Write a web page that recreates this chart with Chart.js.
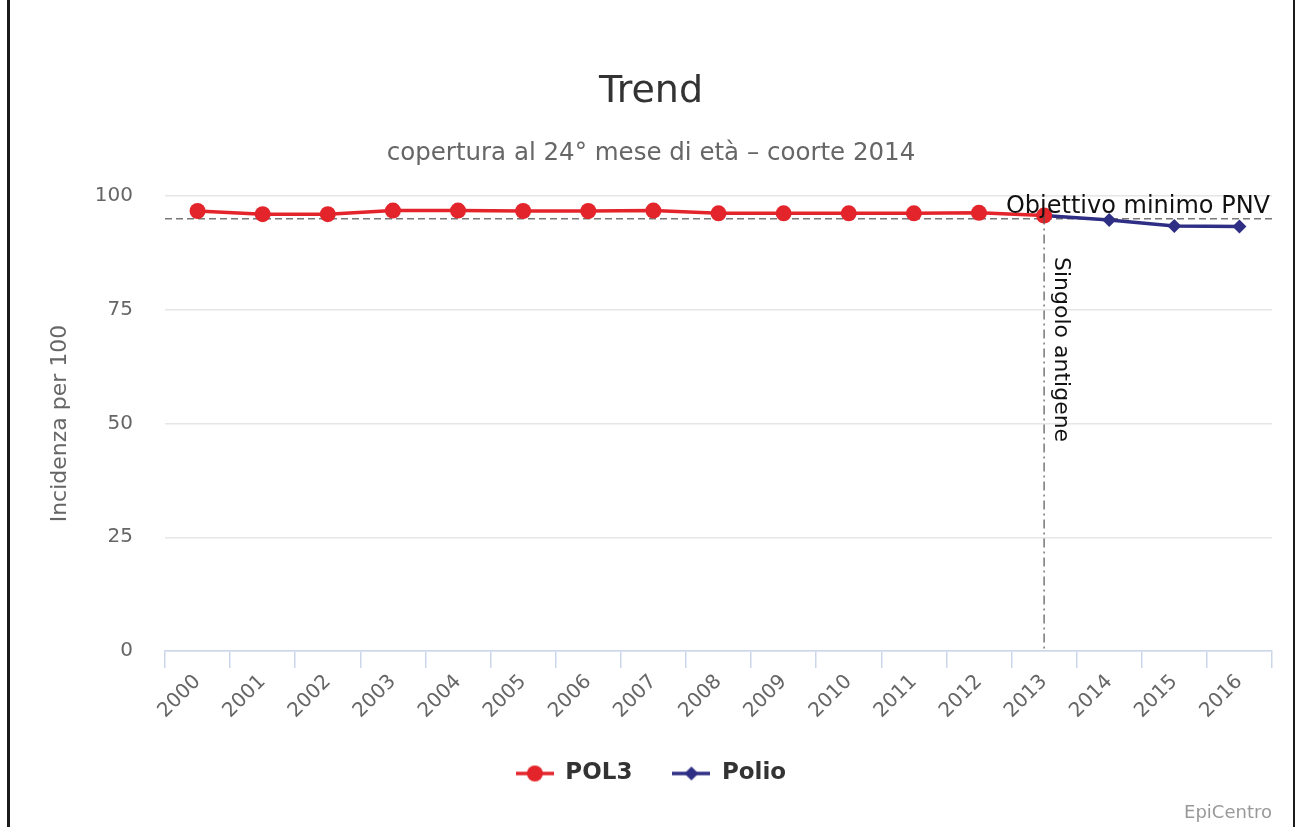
<!DOCTYPE html>
<html>
<head>
<meta charset="utf-8">
<script src="https://cdn.jsdelivr.net/npm/chart.js@4/dist/chart.umd.min.js"></script>
<style>
  html, body { margin: 0; padding: 0; background: #fff; }
  #wrap { position: relative; width: 1295px; height: 827px; }
  #frameL { position: absolute; left: 7px; top: 0; width: 3px; height: 827px; background: #1a1a1a; }
  #frameR { position: absolute; left: 1293px; top: 0; width: 2px; height: 827px; background: #1a1a1a; }
</style>
</head>
<body>
<div id="wrap">
  <canvas id="chTrend" width="1295" height="827"></canvas>
  <div id="frameL"></div>
  <div id="frameR"></div>
</div>
<script>
var years = ['2000','2001','2002','2003','2004','2005','2006','2007','2008',
             '2009','2010','2011','2012','2013','2014','2015','2016'];
var pol3  = [96.7, 96.0, 96.0, 96.8, 96.8, 96.7, 96.7, 96.8, 96.2,
             96.2, 96.2, 96.2, 96.3, 95.7, null, null, null];
var polio = [null, null, null, null, null, null, null, null, null,
             null, null, null, null, 95.7, 94.7, 93.4, 93.3];
var yTicks = [0, 25, 50, 75, 100];
var targetValue = 95;
var targetLabel = 'Objettivo minimo PNV';
var markerYear = '2013';
var markerLabel = 'Singolo antigene';

var red = '#e3242b', navy = '#2e2e85';
Chart.defaults.font.family = "'DejaVu Sans', sans-serif";

// little line+marker images for the legend
function legendIcon(color, style) {
  var c = document.createElement('canvas');
  c.width = 38; c.height = 18;
  var g = c.getContext('2d');
  g.strokeStyle = color; g.fillStyle = color; g.lineWidth = 3.5;
  g.beginPath(); g.moveTo(0, 9); g.lineTo(38, 9); g.stroke();
  g.beginPath();
  if (style === 'circle') {
    g.arc(19, 9, 8, 0, Math.PI * 2);
  } else {
    g.moveTo(19, 2); g.lineTo(26, 9); g.lineTo(19, 16); g.lineTo(12, 9); g.closePath();
  }
  g.fill();
  return c;
}

var annotations = {
  id: 'annotations',
  beforeDatasetsDraw: function(chart) {
    var ctx = chart.ctx, a = chart.chartArea, y = chart.scales.y.getPixelForValue(targetValue);
    ctx.save();
    ctx.strokeStyle = '#777'; ctx.lineWidth = 1.5; ctx.setLineDash([7, 4]);
    ctx.beginPath(); ctx.moveTo(a.left, y); ctx.lineTo(a.right, y); ctx.stroke();
    ctx.restore();
  },
  afterDatasetsDraw: function(chart) {
    var ctx = chart.ctx, a = chart.chartArea, ys = chart.scales.y;
    var idx = years.indexOf(markerYear);
    var x = chart.scales.x.getPixelForValue(idx);
    ctx.save();
    ctx.strokeStyle = '#555'; ctx.lineWidth = 1.2; ctx.setLineDash([9, 4, 2, 4]);
    ctx.beginPath(); ctx.moveTo(x, ys.getPixelForValue(pol3[idx])); ctx.lineTo(x, a.bottom); ctx.stroke();
    ctx.setLineDash([]);
    ctx.fillStyle = '#111';
    ctx.font = "24px 'DejaVu Sans', sans-serif";
    ctx.textAlign = 'right'; ctx.textBaseline = 'alphabetic';
    ctx.fillText(targetLabel, a.right - 2, ys.getPixelForValue(targetValue) - 6);
    ctx.translate(x + 11, a.top + 61);
    ctx.rotate(Math.PI / 2);
    ctx.textAlign = 'left';
    ctx.font = "22px 'DejaVu Sans', sans-serif";
    ctx.fillText(markerLabel, 0, 0);
    ctx.restore();
  },
  afterDraw: function(chart) {
    var ctx = chart.ctx;
    ctx.save();
    ctx.fillStyle = '#999';
    ctx.font = "18px 'DejaVu Sans', sans-serif";
    ctx.textAlign = 'right'; ctx.textBaseline = 'middle';
    ctx.fillText('EpiCentro', 1272, 813);
    ctx.restore();
  }
};

new Chart(document.getElementById('chTrend'), {
  type: 'line',
  data: {
    labels: years,
    datasets: [
      { label: 'POL3', data: pol3, borderColor: red, backgroundColor: red,
        borderWidth: 3.5, pointStyle: 'circle', pointRadius: 8, pointBorderWidth: 0,
        legendIcon: legendIcon(red, 'circle') },
      { label: 'Polio', data: polio, borderColor: navy, backgroundColor: navy,
        borderWidth: 3.5, pointStyle: 'rectRot', pointRadius: 7, pointBorderWidth: 0,
        legendIcon: legendIcon(navy, 'rectRot') }
    ]
  },
  options: {
    responsive: false,
    animation: false,
    layout: { padding: { top: 69, left: 30, right: 23, bottom: 32 } },
    scales: {
      x: {
        offset: true,
        grid: { display: true, drawOnChartArea: false, offset: true, tickLength: 17,
                color: '#ccd6eb', lineWidth: 1.5 },
        border: { display: true, color: '#ccd6eb', width: 1.5 },
        ticks: { minRotation: 45, maxRotation: 45, autoSkip: false, color: '#666',
                 font: { size: 20 }, padding: 2 },
        afterFit: function(s) { s.height = 71; }
      },
      y: {
        min: 0, max: 100,
        afterBuildTicks: function(s) { s.ticks = yTicks.map(function(v){ return {value: v}; }); },
        grid: { color: '#e6e6e6', lineWidth: 1.5, drawTicks: false },
        border: { display: false },
        ticks: { color: '#666', font: { size: 20 }, padding: 32 },
        title: { display: true, text: 'Incidenza per 100', color: '#666',
                 font: { size: 22 }, padding: { top: 17, bottom: 0 } },
        afterFit: function(s) { s.width = 135; }
      }
    },
    plugins: {
      title: { display: true, text: 'Trend', color: '#333',
               font: { size: 38, weight: 'normal' }, padding: { top: 0, bottom: 24 } },
      subtitle: { display: true, text: 'copertura al 24° mese di età – coorte 2014',
                  color: '#666', font: { size: 24.5 }, padding: { top: 0, bottom: 28 } },
      legend: {
        position: 'bottom',
        labels: {
          usePointStyle: true, pointStyleWidth: 38, color: '#333',
          font: { size: 23, weight: 'bold' }, padding: 40,
          generateLabels: function(chart) {
            return chart.data.datasets.map(function(ds, i) {
              return { text: ds.label, pointStyle: ds.legendIcon, fillStyle: ds.borderColor,
                       strokeStyle: ds.borderColor, lineWidth: 0, hidden: false,
                       datasetIndex: i, fontColor: '#333' };
            });
          }
        }
      },
      tooltip: { enabled: false }
    }
  },
  plugins: [annotations]
});
</script>
</body>
</html>
